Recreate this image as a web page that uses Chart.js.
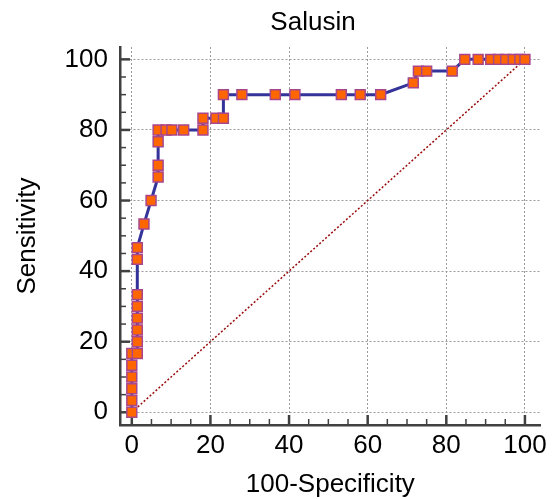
<!DOCTYPE html>
<html><head><meta charset="utf-8">
<script src="https://cdn.jsdelivr.net/npm/chart.js@4/dist/chart.umd.min.js"></script>
<style>html,body{margin:0;padding:0;background:#fff}#wrap{width:552px;height:499px}</style>
</head><body><div id="wrap"><canvas id="c" width="552" height="499"></canvas></div>
<script>
const chartTitle = 'Salusin';
const xAxisTitle = '100-Specificity';
const yAxisTitle = 'Sensitivity';
const tickValues = [0, 20, 40, 60, 80, 100];
const minorTickValues = [0,5,10,15,20,25,30,35,40,45,50,55,60,65,70,75,80,85,90,95,100];

// ROC curve: 100-Specificity (x) and Sensitivity (y)
const fpr = [0,0,0,0,0,0,
  1.4,1.4,1.4,1.4,1.4,1.4,1.4,1.4,
  3.1,4.9,
  6.7,6.7,6.7,6.7,
  8.7,10.2,13.2,18.1,
  18.1,21.4,23.3,
  23.3,28.0,36.5,41.5,53.3,58.1,63.3,
  71.6,
  72.9,75.0,81.5,
  84.7,88.1,91.3,93.3,95.1,97.0,98.7,100];
const tpr = [0,3.33,6.67,10,13.33,16.67,
  16.67,20,23.33,26.67,30,33.33,43.33,46.67,
  53.33,60,
  66.67,70,76.67,80,
  80,80,80,80,
  83.33,83.33,83.33,
  90,90,90,90,90,90,90,
  93.33,
  96.67,96.67,96.67,
  100,100,100,100,100,100,100,100];

// Diagonal reference line
const refX = [0, 100];
const refY = [0, 100];

const FONT = '"Liberation Sans", Arial, sans-serif';

const innerTicks = {
  id: 'innerTicks',
  beforeDatasetsDraw(chart) {
    const {ctx, scales: {x, y}, chartArea: a} = chart;
    ctx.save();
    ctx.strokeStyle = '#404040';
    minorTickValues.forEach(v => {
      const major = tickValues.includes(v);
      ctx.lineWidth = major ? 2.5 : 1.5;
      const len = major ? 10 : 6;
      const px = x.getPixelForValue(v);
      ctx.beginPath(); ctx.moveTo(px, a.bottom); ctx.lineTo(px, a.bottom - len); ctx.stroke();
      const py = y.getPixelForValue(v);
      ctx.beginPath(); ctx.moveTo(a.left, py); ctx.lineTo(a.left + len, py); ctx.stroke();
    });
    ctx.restore();
  }
};

const titlePlugin = {
  id: 'customTitle',
  afterDraw(chart) {
    const ctx = chart.ctx;
    ctx.save();
    ctx.fillStyle = '#000';
    ctx.font = '26px ' + FONT;
    ctx.textAlign = 'center';
    ctx.textBaseline = 'middle';
    ctx.fillText(chartTitle, 313, 23);
    ctx.restore();
  }
};

new Chart(document.getElementById('c'), {
  type: 'line',
  data: {
    datasets: [
      {
        data: fpr.map((v, i) => ({x: v, y: tpr[i]})),
        borderColor: '#33339a',
        borderWidth: 3,
        pointStyle: 'rect',
        pointRadius: 7,
        pointBackgroundColor: '#ff6600',
        pointBorderColor: '#a8468c',
        pointBorderWidth: 1.5,
        tension: 0,
        clip: false,
        order: 1
      },
      {
        data: refX.map((v, i) => ({x: v, y: refY[i]})),
        borderColor: '#9a0a0a',
        borderWidth: 1.5,
        borderDash: [2, 2],
        pointRadius: 0,
        order: 2
      }
    ]
  },
  options: {
    responsive: false,
    animation: false,
    devicePixelRatio: 1,
    layout: {padding: {top: 47, right: 10, bottom: 0, left: 0}},
    plugins: {legend: {display: false}, tooltip: {enabled: false}, title: {display: false}},
    scales: {
      x: {
        type: 'linear', min: -3, max: 104,
        afterFit(s) { s.height = 74; },
        ticks: {stepSize: 20, includeBounds: false, color: '#000', font: {family: FONT, size: 26}, padding: 5, maxRotation: 0,
                callback: v => tickValues.includes(v) ? String(v) : ''},
        grid: {color: '#9a9a9a', lineWidth: 1, drawTicks: false},
        border: {color: '#404040', width: 2.5, dash: [2, 2]},
        title: {display: true, text: xAxisTitle, color: '#000', font: {family: FONT, size: 26}, padding: {top: 0, bottom: -1}}
      },
      y: {
        type: 'linear', min: -3.6, max: 103.5,
        afterFit(s) { s.width = 120; },
        ticks: {stepSize: 20, includeBounds: false, color: '#000', font: {family: FONT, size: 26}, padding: 12,
                callback: v => tickValues.includes(v) ? String(v) : ''},
        grid: {color: '#9a9a9a', lineWidth: 1, drawTicks: false},
        border: {color: '#404040', width: 2.5, dash: [2, 2]},
        title: {display: true, text: yAxisTitle, color: '#000', font: {family: FONT, size: 26}, padding: {top: 12, bottom: 0}}
      }
    }
  },
  plugins: [innerTicks, titlePlugin]
});
</script></body></html>
